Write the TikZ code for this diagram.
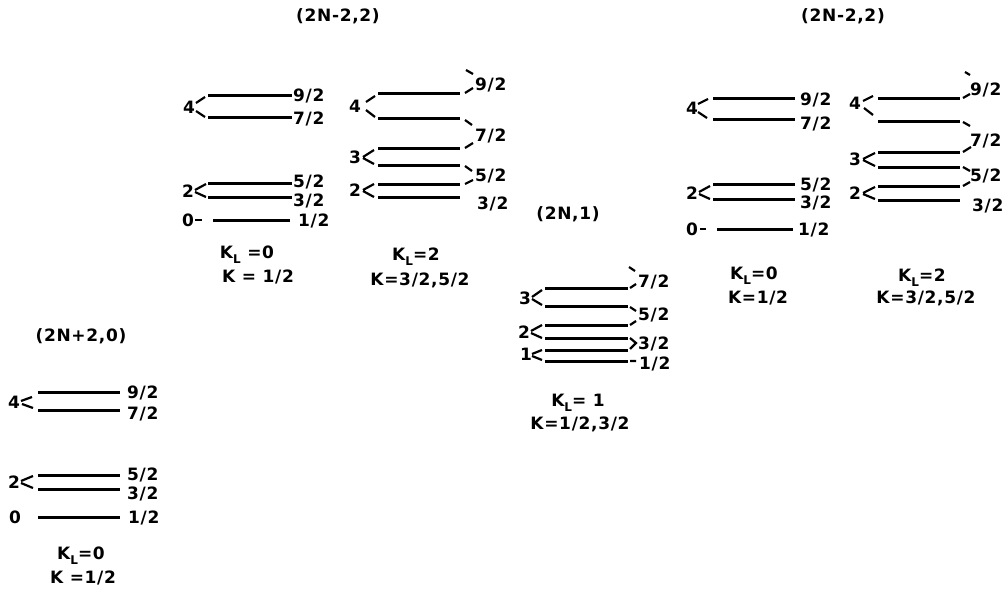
\documentclass[tikz,border=0pt]{standalone}
\usepackage{fontspec}
\newfontfamily\labfont{DejaVu Sans}[LetterSpace=4]
\newcommand\KL{K\raisebox{-5pt}{\fontsize{12}{12}\selectfont L}}
\tikzset{
  lvl/.style={line width=3pt},
  tick/.style={line width=2.2pt},
  lab/.style={font=\labfont\bfseries\fontsize{17}{19}\selectfont, inner sep=0pt, text height=12pt, text depth=0pt},
  rl/.style={lab, anchor=west}
}
\begin{document}
\begin{tikzpicture}[x=1pt,y=-1pt]
\useasboundingbox (0,0) rectangle (1003,595);
% ---------- (2N+2,0) ----------
\node[lab] (t1) at (81,335) {(2N+2,0)};
\foreach \y in {392,410,475,489,517} \draw[lvl] (38,\y) -- (120,\y);
\node[rl] (a92) at (127,392) {9/2};
\node[rl] (a72) at (127,413) {7/2};
\node[rl] (a52) at (127,474) {5/2};
\node[rl] (a32) at (127,493) {3/2};
\node[rl] (a12) at (128,517) {1/2};
\node[lab] (a4) at (14,402) {4};
\draw[tick] (21,401) -- (32,397) (22,404) -- (33,408);
\node[lab] (a2) at (14,482) {2};
\draw[tick] (21,481) -- (33,476) (21,483) -- (33,488);
\node[lab] (a0) at (15,517) {0};
\node[lab] (akl) at (81,553) {\KL=0};
\node[lab] (ak) at (83,577) {K =1/2};
% ---------- (2N-2,2) left, K_L=0 ----------
\node[lab] (t2) at (338,15) {(2N-2,2)};
\foreach \y in {95,117,183,197} \draw[lvl] (208,\y) -- (292,\y);
\draw[lvl] (213,220) -- (290,220);
\node[rl] (b92) at (293,95) {9/2};
\node[rl] (b72) at (293,118) {7/2};
\node[rl] (b52) at (293,181) {5/2};
\node[rl] (b32) at (293,200) {3/2};
\node[rl] (b12) at (298,220) {1/2};
\node[lab] (b4) at (189,107) {4};
\draw[tick] (196,103) -- (205,97) (196,111) -- (205,117);
\node[lab] (b2) at (188,191) {2};
\draw[tick] (195,190) -- (206,184) (195,192) -- (206,197);
\node[lab] (b0) at (188,220) {0};
\draw[tick] (195,220) -- (202,220);
\node[lab] (bkl) at (247,252) {\KL\ =0};
\node[lab] (bk) at (258,276) {K = 1/2};
% ---------- (2N-2,2) left, K_L=2 ----------
\foreach \y in {93,118,148,165,184,197} \draw[lvl] (378,\y) -- (460,\y);
\draw[tick] (466,70) -- (473,74) (465,93) -- (473,88) (465,120) -- (472,125)
            (465,148) -- (473,143) (465,166) -- (472,171) (465,184) -- (473,180);
\node[rl] (c92) at (475,84) {9/2};
\node[rl] (c72) at (475,135) {7/2};
\node[rl] (c52) at (475,175) {5/2};
\node[rl] (c32) at (477,203) {3/2};
\node[lab] (c4) at (355,106) {4};
\draw[tick] (366,102) -- (375,96) (366,110) -- (375,117);
\node[lab] (c3) at (355,157) {3};
\draw[tick] (363,157) -- (374,150) (363,158) -- (374,164);
\node[lab] (c2) at (355,190) {2};
\draw[tick] (363,190) -- (374,184) (363,191) -- (374,197);
\node[lab] (ckl) at (416,254) {\KL=2};
\node[lab] (ck) at (420,279) {K=3/2,5/2};
% ---------- (2N,1) ----------
\node[lab] (t3) at (568,213) {(2N,1)};
\foreach \y in {288,306,325,338,350,361} \draw[lvl] (545,\y) -- (628,\y);
\draw[tick] (629,267) -- (635,271) (630,288) -- (636,284) (630,307) -- (636,311)
            (630,325) -- (636,321) (630,338) -- (636,343) -- (630,349) (630,361) -- (636,361);
\node[rl] (d72) at (638,281) {7/2};
\node[rl] (d52) at (638,314) {5/2};
\node[rl] (d32) at (638,343) {3/2};
\node[rl] (d12) at (639,363) {1/2};
\node[lab] (d3) at (525,298) {3};
\draw[tick] (532,297) -- (542,290) (532,299) -- (542,305);
\node[lab] (d2) at (524,332) {2};
\draw[tick] (531,331) -- (542,325) (531,333) -- (542,338);
\node[lab] (d1) at (526,354) {1};
\draw[tick] (532,354) -- (542,350) (532,356) -- (542,360);
\node[lab] (dkl) at (578,400) {\KL= 1};
\node[lab] (dk) at (580,423) {K=1/2,3/2};
% ---------- (2N-2,2) right, K_L=0 ----------
\node[lab] (t4) at (843,15) {(2N-2,2)};
\foreach \y in {98,119,184,199} \draw[lvl] (713,\y) -- (795,\y);
\draw[lvl] (717,229) -- (793,229);
\node[rl] (e92) at (800,99) {9/2};
\node[rl] (e72) at (800,123) {7/2};
\node[rl] (e52) at (800,184) {5/2};
\node[rl] (e32) at (800,202) {3/2};
\node[rl] (e12) at (798,229) {1/2};
\node[lab] (e4) at (692,108) {4};
\draw[tick] (698,104) -- (708,99) (698,112) -- (707,118);
\node[lab] (e2) at (692,193) {2};
\draw[tick] (699,192) -- (710,186) (699,194) -- (710,199);
\node[lab] (e0) at (692,229) {0};
\draw[tick] (700,229) -- (706,229);
\node[lab] (ekl) at (754,273) {\KL=0};
\node[lab] (ek) at (758,297) {K=1/2};
% ---------- (2N-2,2) right, K_L=2 ----------
\foreach \y in {98,121,152,167,186,200} \draw[lvl] (878,\y) -- (960,\y);
\draw[tick] (965,72) -- (970,75) (963,98) -- (970,94) (963,122) -- (970,126)
            (963,152) -- (971,147) (963,167) -- (970,171) (963,186) -- (970,182);
\node[rl] (f92) at (970,89) {9/2};
\node[rl] (f72) at (970,140) {7/2};
\node[rl] (f52) at (970,175) {5/2};
\node[rl] (f32) at (972,205) {3/2};
\node[lab] (f4) at (855,103) {4};
\draw[tick] (863,101) -- (873,96) (864,108) -- (873,115);
\node[lab] (f3) at (855,159) {3};
\draw[tick] (863,159) -- (875,153) (863,160) -- (875,166);
\node[lab] (f2) at (855,193) {2};
\draw[tick] (863,193) -- (875,187) (863,194) -- (875,199);
\node[lab] (fkl) at (922,275) {\KL=2};
\node[lab] (fk) at (926,297) {K=3/2,5/2};
\end{tikzpicture}
\end{document}
